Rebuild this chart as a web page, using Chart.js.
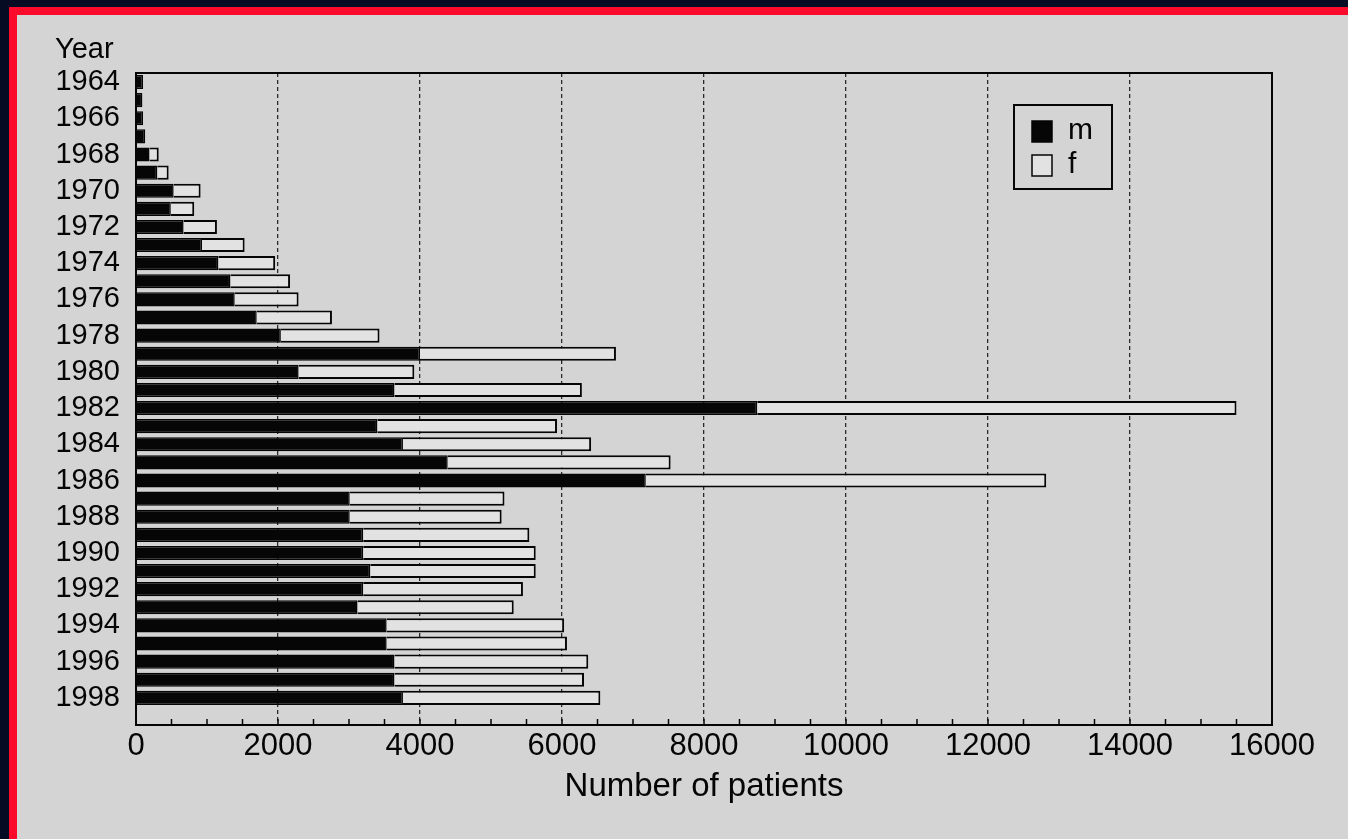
<!DOCTYPE html>
<html>
<head>
<meta charset="utf-8">
<script src="https://cdn.jsdelivr.net/npm/chart.js@4.4.1/dist/chart.umd.min.js"></script>
<style>
  html, body { margin: 0; padding: 0; background: #040b22; width: 1348px; height: 839px; overflow: hidden; }
  #frame { position: absolute; left: 9px; top: 7px; width: 1331px; height: 826px;
           border-left: 8px solid #fb0b2b; border-top: 8px solid #fb0b2b; border-bottom: 3px solid #fb0b2b;
           background: #d4d4d4; }
  #chart { position: absolute; left: 0; top: 0; }
</style>
</head>
<body>
<div id="frame"></div>
<canvas id="chart" width="1348" height="839"></canvas>
<script>
// years (1999 slot is empty in the original figure)
var years = ["1964","1965","1966","1967","1968","1969","1970","1971","1972","1973","1974","1975",
             "1976","1977","1978","1979","1980","1981","1982","1983","1984","1985","1986","1987",
             "1988","1989","1990","1991","1992","1993","1994","1995","1996","1997","1998","1999"];
// male patients
var male = [100, 90, 100, 130, 190, 300, 530, 490, 670, 930, 1160, 1330,
            1390, 1700, 2040, 4000, 2290, 3640, 8750, 3400, 3760, 4390, 7180, 3010,
            3010, 3200, 3200, 3300, 3200, 3120, 3530, 3530, 3640, 3640, 3760, null];
// female patients
var female = [0, 0, 0, 0, 130, 160, 380, 330, 470, 600, 800, 840,
              900, 1060, 1390, 2760, 1630, 2640, 6750, 2530, 2650, 3140, 5640, 2180,
              2140, 2340, 2430, 2330, 2250, 2200, 2500, 2540, 2730, 2670, 2780, null];
var xTicks = [0, 2000, 4000, 6000, 8000, 10000, 12000, 14000, 16000];

var FONT = "'Liberation Sans', Arial, sans-serif";
var INK = '#050505';

// frame round the plot, inward minor ticks, "Year" and the legend box
var extras = {
    id: 'extras',
    afterDatasetsDraw: function(chart) {
        var c = chart.ctx, a = chart.chartArea, xs = chart.scales.x;
        c.save();
        c.strokeStyle = INK;
        c.lineWidth = 2;
        c.strokeRect(a.left, a.top, a.right - a.left, a.bottom - a.top);
        c.lineWidth = 1.5;
        for (var v = 500; v < 16000; v += 500) {
            var px = xs.getPixelForValue(v);
            c.beginPath();
            c.moveTo(px, a.bottom);
            c.lineTo(px, a.bottom - 6);
            c.stroke();
        }
        c.fillStyle = INK;
        c.font = '29px ' + FONT;
        c.textBaseline = 'middle';
        c.textAlign = 'left';
        c.fillText('Year', 55, 50);

        // legend
        var bx = a.right - 258, by = a.top + 32;
        c.lineWidth = 2;
        c.strokeRect(bx, by, 98, 84);
        var items = chart.data.datasets;
        for (var i = 0; i < items.length; i++) {
            var sy = by + 16 + i * 34;
            c.fillStyle = items[i].backgroundColor;
            c.fillRect(bx + 18, sy, 20, 21);
            c.lineWidth = 1.5;
            c.strokeRect(bx + 18, sy, 20, 21);
            c.fillStyle = INK;
            c.font = '30px ' + FONT;
            c.fillText(items[i].label, bx + 54, sy + 10);
        }
        c.restore();
    }
};

new Chart(document.getElementById('chart'), {
    type: 'bar',
    data: {
        labels: years,
        datasets: [{
            label: 'm',
            data: male,
            backgroundColor: '#060606',
            borderColor: INK,
            borderWidth: 1.5,
            barPercentage: 0.78,
            categoryPercentage: 1
        }, {
            label: 'f',
            data: female,
            backgroundColor: '#e2e2e2',
            borderColor: INK,
            borderWidth: 2,
            barPercentage: 0.78,
            categoryPercentage: 1
        }]
    },
    options: {
        indexAxis: 'y',
        responsive: false,
        animation: false,
        layout: { padding: { top: 73, right: 76, bottom: 14, left: 36 } },
        plugins: { legend: { display: false }, tooltip: { enabled: false } },
        scales: {
            x: {
                stacked: true,
                min: 0,
                max: 16000,
                afterFit: function(s) { s.height = 100; },
                afterBuildTicks: function(s) {
                    s.ticks = xTicks.map(function(v) { return { value: v }; });
                },
                ticks: {
                    autoSkip: false,
                    maxRotation: 0,
                    padding: 3,
                    color: INK,
                    font: { family: FONT, size: 31 },
                    callback: function(v) { return String(v); }
                },
                grid: {
                    drawTicks: false,
                    color: function(ctx) {
                        var v = ctx.tick ? ctx.tick.value : 0;
                        return (v > 0 && v < 16000) ? '#2a2a2a' : 'rgba(0,0,0,0)';
                    },
                    lineWidth: 1.3
                },
                border: { display: true, color: INK, width: 2, dash: [4, 3] },
                title: {
                    display: true,
                    text: 'Number of patients',
                    color: INK,
                    font: { family: FONT, size: 33 },
                    padding: { top: 0, bottom: 18 }
                }
            },
            y: {
                stacked: true,
                afterFit: function(s) { s.width = 100; },
                ticks: {
                    autoSkip: false,
                    padding: 16,
                    color: INK,
                    font: { family: FONT, size: 29 },
                    callback: function(v, i) { return i % 2 === 0 ? this.getLabelForValue(v) : ''; }
                },
                grid: { display: false, drawTicks: false },
                border: { display: true, color: INK, width: 2 }
            }
        }
    },
    plugins: [extras]
});
</script>
</body>
</html>
